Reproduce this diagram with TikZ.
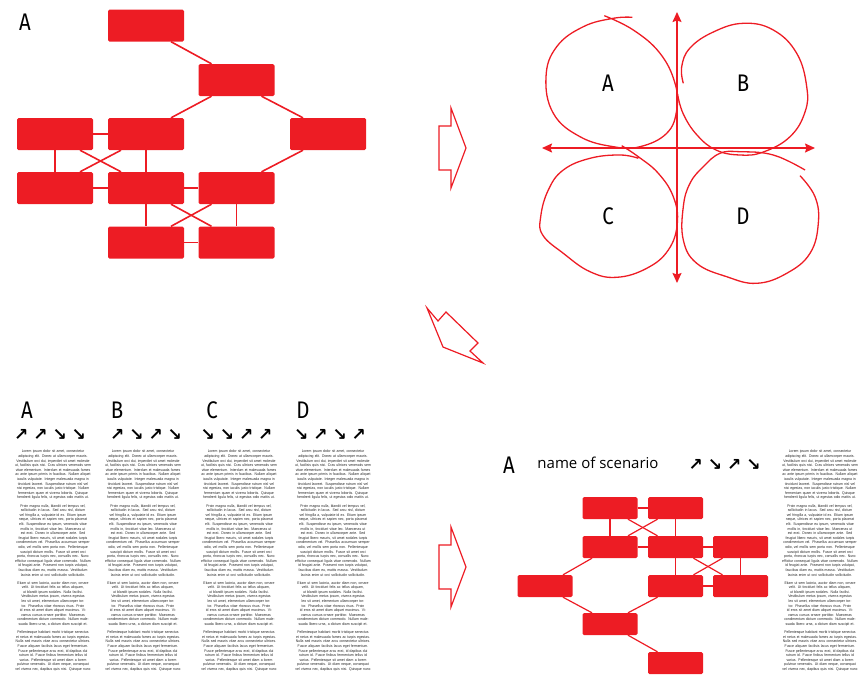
\documentclass[tikz,border=0pt]{standalone}
\usepackage{fontspec}
\setmainfont{Fira Sans}
\newfontfamily\letterfont[FakeStretch=0.85]{Fira Sans}
\newfontfamily\namefont{Open Sans}
\newfontfamily\arrowfont{DejaVu Sans}
\newfontfamily\loremfont[FakeStretch=0.9]{Liberation Sans}
\usepackage{xcolor}
\usetikzlibrary{arrows.meta}
\definecolor{scred}{HTML}{ED1C24}

\newcommand{\loremcol}{%
Lorem ipsum dolor sit amet, consectetur adipiscing elit. Donec at ullamcorper mauris. Vestibulum orci dui, imperdiet sit amet molestie ut, facilisis quis nisi. Cras ultrices venenatis sem vitae elementum. Interdum et malesuada fames ac ante ipsum primis in faucibus. Nullam aliquet iaculis vulputate. Integer malesuada magna in tincidunt laoreet. Suspendisse rutrum nisl vel nisi egestas, non iaculis justo tristique. Nullam fermentum quam et viverra lobortis. Quisque hendrerit ligula felis, ut egestas odio mattis ut.\\[3.5pt]
Proin magna nulla, blandit vel tempus vel, sollicitudin in lacus. Sed arcu nisl, dictum vel fringilla a, vulputate id ex. Etiam ipsum neque, ultrices et sapien nec, porta placerat elit. Suspendisse eu ipsum, venenatis vitae mollis in, tincidunt vitae leo. Maecenas ut est erat. Donec in ullamcorper ante. Sed feugiat libero mauris, sit amet sodales turpis condimentum vel. Phasellus accumsan semper odio, vel mollis sem porta non. Pellentesque suscipit dictum mollis. Fusce sit amet orci porta, rhoncus turpis nec, convallis nec. Nunc efficitur consequat ligula vitae commodo. Nullam id feugiat ante. Praesent non turpis volutpat, faucibus diam eu, mattis massa. Vestibulum lacinia enim ut orci sollicitudin sollicitudin.\\[3.5pt]
Etiam ut sem lacinia, auctor diam non, ornare velit. Ut tincidunt felis ac tellus aliquam, ut blandit ipsum sodales. Nulla facilisi. Vestibulum metus ipsum, viverra egestas leo sit amet, elementum ullamcorper tortor. Phasellus vitae rhoncus risus. Proin id eros sit amet diam aliquet maximus. Vivamus cursus ornare porttitor. Maecenas condimentum dictum commodo. Nullam malesuada libero urna, a dictum diam suscipit et.\\[3.5pt]
Pellentesque habitant morbi tristique senectus et netus et malesuada fames ac turpis egestas. Nulla sed mauris vitae arcu consectetur ultrices. Fusce aliquam facilisis lacus eget fermentum. Fusce pellentesque arcu erat, id dapibus dui rutrum id. Fusce finibus fermentum tellus id varius. Pellentesque sit amet diam a lorem pulvinar venenatis. Ut diam neque, consequat vel viverra nec, dapibus quis nisi. Quisque nunc}

\begin{document}
\begin{tikzpicture}[
    x=1pt,y=-1pt,
    bigbox/.style={fill=scred,rounded corners=1.5pt,minimum width=76pt,minimum height=32pt,inner sep=0pt},
    smallbox/.style={bigbox,minimum width=55pt,minimum height=22pt},
    link/.style={draw=scred,line width=1.6pt},
    thinlink/.style={draw=scred,line width=1.2pt},
    letter/.style={font=\letterfont\fontsize{24}{24}\selectfont,inner sep=0pt},
    arrowrow/.style={font=\arrowfont\bfseries\fontsize{17}{17}\selectfont,inner sep=0pt},
    column/.style={anchor=north,text width=76pt,align=center,inner sep=0pt,text=black!85,font=\loremfont\fontsize{3.8}{4.6}\selectfont},
    loop/.style={draw=scred,line width=1.3pt},
    axis/.style={draw=scred,line width=1.5pt,{Stealth[length=10pt,width=9pt,inset=1.5pt]}-{Stealth[length=10pt,width=9pt,inset=1.5pt]}},
    hollowarrow/.style={draw=scred,line width=1.2pt}
]
    \useasboundingbox (0,0) rectangle (858,681);
    % Top left: the full graph
    \node[letter] (tA) at (25,22) {A};
    \node[bigbox] (t1) at (146,25.5) {};
    \node[bigbox] (t2) at (236.5,80) {};
    \node[bigbox] (t3) at (55,134) {};
    \node[bigbox] (t4) at (146,134) {};
    \node[bigbox] (t5) at (328,134) {};
    \node[bigbox] (t6) at (55,188) {};
    \node[bigbox] (t7) at (146,188) {};
    \node[bigbox] (t8) at (236.5,188) {};
    \node[bigbox] (t9) at (146,242.5) {};
    \node[bigbox] (t10) at (236.5,242.5) {};
    \draw[link] ([xshift=25pt]t1.south) -- ([xshift=-25pt]t2.north);
    \draw[link] ([xshift=-25pt]t2.south) -- ([xshift=25pt]t4.north);
    \draw[link] ([xshift=25pt]t2.south) -- ([xshift=-25pt]t5.north);
    \draw[link] ([xshift=-25pt]t5.south) -- ([xshift=25pt]t8.north);
    \draw[link] (t3.east) -- (t4.west);
    \draw[link] (t3.south) -- (t6.north);
    \draw[link] (t4.south) -- (t7.north);
    \draw[link] ([xshift=25pt]t3.south) -- ([xshift=-25pt]t7.north);
    \draw[link] ([xshift=-25pt]t4.south) -- ([xshift=25pt]t6.north);
    \draw[link] (t6.east) -- (t7.west);
    \draw[link] (t7.east) -- (t8.west);
    \draw[link] (t7.south) -- (t9.north);
    \draw[link] (t8.south) -- (t10.north);
    \draw[link] ([xshift=25pt]t7.south) -- ([xshift=-25pt]t10.north);
    \draw[link] ([xshift=-25pt]t8.south) -- ([xshift=25pt]t9.north);
    \draw[link] (t9.east) -- (t10.west);

    % Hollow arrows between the parts
    \foreach \dy in {0,419} {
        \draw[hollowarrow] (439,126+\dy) -- (451,126+\dy) -- (451,108+\dy) -- (466,148+\dy)
            -- (451,188+\dy) -- (451,170+\dy) -- (439,170+\dy) -- cycle;
    }
    \draw[hollowarrow] (427,308) -- (438,321) -- (446,312) -- (478,343) -- (470,351)
        -- (483,363) -- (443,347) -- cycle;

    % Top right: four quadrants
    \coordinate (vtop) at (677,12);
    \coordinate (vbot) at (677,283);
    \coordinate (hleft) at (542,148);
    \coordinate (hright) at (815,148);
    \draw[axis] (vbot) -- (vtop);
    \draw[axis] (hleft) -- (hright);
    \draw[loop] plot[smooth,tension=0.7] coordinates {(604.3,15.7) (633.3,30) (660,53.3) (675,83.3)
        (676.7,110) (666.7,133.3) (640,146.7) (613.3,146.7) (580,136.7) (553.3,113.3) (546,76.7)
        (556.7,46.7) (583.3,26.7) (613.3,18.3) (632.3,17.3)};
    \draw[loop] plot[smooth,tension=0.7] coordinates {(683.3,83.3) (681.7,66.7) (690,48) (713.3,32)
        (743.3,23.3) (773.3,30) (796.7,53.3) (806.7,86.7) (805,112) (790,136.7) (763.3,152)
        (740,155) (716,150) (697,135) (683.3,114) (677.5,94)};
    \draw[loop] plot[smooth,tension=0.7] coordinates {(621.7,145.7) (638.3,156.7) (658.3,173.3)
        (673.3,196.7) (677.3,223.3) (668.3,250) (646.7,268.3) (616.7,277.3) (590,271.7)
        (563.3,253.3) (542.7,235) (540.7,216.7) (548.3,190) (563.3,170) (590,158.3) (620,155)
        (638.3,158.3)};
    \draw[loop] plot[smooth,tension=0.7] coordinates {(805,170) (773.3,155) (740,151.7) (720,153.3)
        (703.3,166.7) (690,183.3) (683.3,206.7) (683.3,240) (696.7,263.3) (726.7,276.7)
        (756.7,283.3) (786.7,273.3) (810,253.3) (818.3,223.3) (815,196.7) (800,175.7)};
    \node[letter] (qA) at (608,83) {A};
    \node[letter] (qB) at (743,83) {B};
    \node[letter] (qC) at (608,216) {C};
    \node[letter] (qD) at (743,216) {D};

    % Bottom left: one column per scenario
    \node[letter] (cA) at (27,410) {A};
    \node[letter] (cB) at (117,410) {B};
    \node[letter] (cC) at (212,410) {C};
    \node[letter] (cD) at (303,410) {D};
    \node[arrowrow] (rA) at (50,435) {↗\hspace{5pt}↗\hspace{5pt}↘\hspace{5pt}↘};
    \node[arrowrow] (rB) at (146,435) {↗\hspace{5pt}↘\hspace{5pt}↗\hspace{5pt}↘};
    \node[arrowrow] (rC) at (236.5,435) {↘\hspace{5pt}↘\hspace{5pt}↗\hspace{5pt}↗};
    \node[arrowrow] (rD) at (330,435) {↘\hspace{5pt}↗\hspace{5pt}↘\hspace{5pt}↗};
    \node[column] (txA) at (53,450) {\loremcol};
    \node[column] (txB) at (143,450) {\loremcol};
    \node[column] (txC) at (239,450) {\loremcol};
    \node[column] (txD) at (333,450) {\loremcol};

    % Bottom right: one scenario
    \node[letter] (sA) at (509,465) {A};
    \node[font=\namefont\fontsize{15}{15}\selectfont,inner sep=0pt] (sname) at (598,463) {name of scenario};
    \node[arrowrow] (sArr) at (724.5,465) {↗\hspace{5pt}↘\hspace{5pt}↗\hspace{5pt}↘};
    \node[column] (sTxt) at (820,450) {\loremcol};
    \node[smallbox] (b1) at (610,508) {};
    \node[smallbox] (b2) at (675.5,508) {};
    \node[smallbox] (b3) at (610,547) {};
    \node[smallbox] (b4) at (675.5,547) {};
    \node[smallbox] (b5) at (740.5,547) {};
    \node[smallbox] (b6) at (545,586) {};
    \node[smallbox] (b7) at (675.5,586) {};
    \node[smallbox] (b8) at (740.5,586) {};
    \node[smallbox] (b9) at (610,624) {};
    \node[smallbox] (b10) at (675.5,663) {};
    \draw[thinlink] (b1.east) -- (b2.west);
    \draw[thinlink] (b1.south) -- (b3.north);
    \draw[thinlink] (b2.south) -- (b4.north);
    \draw[thinlink] ([xshift=18pt]b1.south) -- ([xshift=-18pt]b4.north);
    \draw[thinlink] ([xshift=-18pt]b2.south) -- ([xshift=18pt]b3.north);
    \draw[thinlink] (b3.east) -- (b4.west);
    \draw[thinlink] (b4.east) -- (b5.west);
    \draw[thinlink] (b4.south) -- (b7.north);
    \draw[thinlink] (b5.south) -- (b8.north);
    \draw[thinlink] ([xshift=18pt]b4.south) -- ([xshift=-18pt]b8.north);
    \draw[thinlink] ([xshift=-18pt]b5.south) -- ([xshift=18pt]b7.north);
    \draw[thinlink] (b7.east) -- (b8.west);
    \draw[thinlink] ([xshift=-18pt]b3.south) -- ([xshift=18pt]b6.north);
    \draw[thinlink] ([xshift=18pt]b6.south) -- ([xshift=-18pt]b9.north);
    \draw[thinlink] ([xshift=-18pt]b7.south) -- ([xshift=18pt]b9.north);
    \draw[thinlink] ([xshift=18pt]b9.south) -- ([xshift=-18pt]b10.north);
\end{tikzpicture}
\end{document}
